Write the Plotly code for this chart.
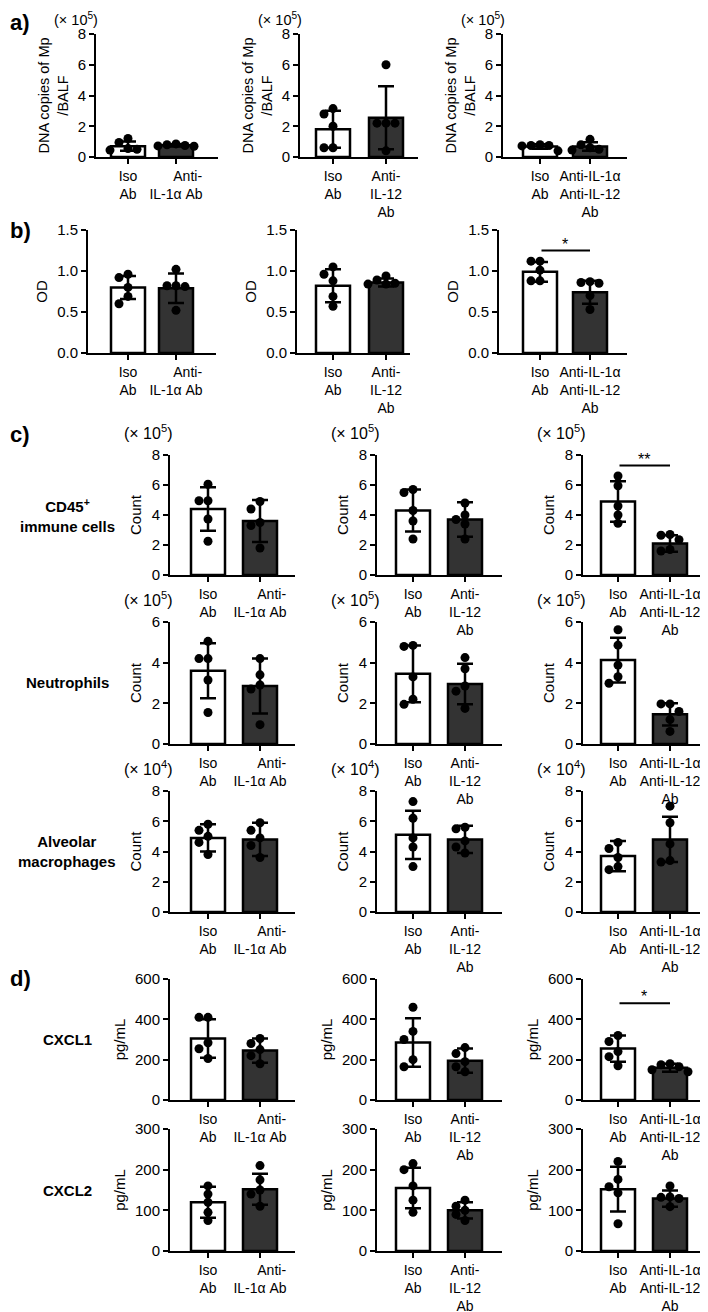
import plotly.graph_objects as go

FONT = "Arial, 'Liberation Sans', sans-serif"
# the page body has an 8px margin, so the figure is drawn 8px in from the corner
OFF = 8
W, H = 708 - OFF, 1312 - OFF

# x tick labels, one set per column (IL-1a block, IL-12 block, combined block)
TICKS = [
    ["Iso<br>Ab", "\u00a0\u00a0\u00a0\u00a0\u00a0\u00a0Anti-<br>IL-1α Ab"],
    ["Iso<br>Ab", "Anti-<br>IL-12<br>Ab"],
    ["Iso<br>Ab", "Anti-IL-1α<br>Anti-IL-12<br>Ab"],
]

# a) DNA copies of Mp / BALF (x 10^5); one entry per column
A_ISO = [[1.2, 0.95, 0.55, 0.45, 0.5], [3.15, 2.8, 2.0, 0.6, 0.6], [0.8, 0.75, 0.72, 0.75, 0.4]]
A_ANTI = [[0.85, 0.8, 0.75, 0.7, 0.72], [6.0, 2.2, 2.2, 2.2, 0.4], [1.15, 0.8, 0.6, 0.5, 0.45]]
A_MEAN = [(0.7, 0.76), (1.8, 2.55), (0.68, 0.68)]
A_SD = [(0.3, 0.07), (1.2, 2.05), (0.15, 0.28)]

# b) OD
B_ISO = [[0.96, 0.92, 0.8, 0.69, 0.6], [1.05, 0.96, 0.88, 0.69, 0.57], [1.12, 1.12, 1.01, 0.88, 0.88]]
B_ANTI = [[1.02, 0.81, 0.82, 0.82, 0.52], [0.94, 0.89, 0.85, 0.84, 0.84], [0.87, 0.86, 0.85, 0.7, 0.53]]
B_MEAN = [(0.8, 0.79), (0.82, 0.86), (0.99, 0.74)]
B_SD = [(0.14, 0.18), (0.2, 0.05), (0.12, 0.14)]

# c) CD45+ immune cells (x 10^5)
CD45_ISO = [[6.05, 4.95, 4.95, 3.73, 2.25], [5.7, 5.5, 4.3, 3.6, 2.4], [6.6, 5.95, 4.6, 4.0, 3.45]]
CD45_ANTI = [[4.9, 4.4, 3.5, 3.3, 1.8], [4.8, 4.0, 3.7, 3.4, 2.4], [2.7, 2.65, 2.35, 1.7, 1.6]]
CD45_MEAN = [(4.4, 3.6), (4.3, 3.7), (4.9, 2.1)]
CD45_SD = [(1.45, 1.4), (1.4, 1.15), (1.35, 0.55)]

# c) Neutrophils (x 10^5)
NEU_ISO = [[5.05, 4.2, 4.2, 3.15, 1.55], [4.85, 4.8, 3.3, 2.2, 1.95], [5.62, 4.86, 3.88, 3.31, 2.99]]
NEU_ANTI = [[4.2, 3.4, 2.9, 2.7, 0.95], [4.25, 3.7, 2.85, 2.6, 1.75], [1.97, 1.97, 1.6, 1.2, 0.62]]
NEU_MEAN = [(3.6, 2.85), (3.45, 2.95), (4.13, 1.46)]
NEU_SD = [(1.35, 1.35), (1.4, 1.0), (1.1, 0.55)]

# c) Alveolar macrophages (x 10^4)
AM_ISO = [[5.8, 5.4, 5.0, 4.6, 3.8], [7.3, 6.2, 4.9, 4.3, 3.0], [4.6, 4.2, 3.6, 3.0, 2.8]]
AM_ANTI = [[5.9, 5.4, 4.9, 4.4, 3.6], [5.6, 5.5, 4.7, 4.3, 3.9], [7.0, 5.9, 4.5, 3.4, 3.3]]
AM_MEAN = [(4.9, 4.8), (5.1, 4.8), (3.7, 4.8)]
AM_SD = [(0.9, 1.1), (1.6, 0.9), (1.0, 1.5)]

# d) CXCL1 (pg/mL)
CX1_ISO = [[410, 410, 284, 254, 206], [460, 340, 300, 200, 165], [320, 290, 240, 215, 170]]
CX1_ANTI = [[305, 280, 250, 220, 180], [260, 230, 190, 165, 140], [180, 175, 165, 150, 140]]
CX1_MEAN = [(305, 245), (285, 195), (255, 160)]
CX1_SD = [(95, 60), (120, 60), (65, 20)]

# d) CXCL2 (pg/mL)
CX2_ISO = [[160, 140, 120, 95, 75], [215, 200, 160, 125, 95], [220, 176, 158, 143, 67]]
CX2_ANTI = [[210, 175, 150, 140, 110], [125, 110, 100, 90, 75], [160, 133, 132, 129, 109]]
CX2_MEAN = [(120, 152), (155, 100), (152, 129)]
CX2_SD = [(38, 38), (50, 20), (55, 20)]

# significance marks: (row, column, label, level)
SIG = [(1, 2, "*", 1.25), (2, 2, "**", 7.3), (3, 2, "**", 6.1), (5, 2, "*", 480)]

# pixel geometry of the grid (page pixels)
LEFT_AB, RIGHT_AB = [[96, 300, 503], [88, 297, 499]], [[218, 418, 627], [216, 410, 627]]
CENTERS_AB = [(128, 176), (333, 386), (540, 590)]
LEFT_CD, RIGHT_CD = [170, 377, 583], [295, 502, 706]
CENTERS_CD = [(208, 260), (413, 465), (618, 670)]

ROWS = [
    dict(iso=A_ISO, anti=A_ANTI, mean=A_MEAN, sd=A_SD, ypx=(34, 157), ymax=8, dtick=2,
         title="DNA copies of Mp<br>/BALF", tsize=14.5, mult="(× 10<sup>5</sup>)", msize=14.5,
         label=None),
    dict(iso=B_ISO, anti=B_ANTI, mean=B_MEAN, sd=B_SD, ypx=(230, 353), ymax=1.5, dtick=0.5,
         title="OD", mult=None, label=None, fmt=".1f"),
    dict(iso=CD45_ISO, anti=CD45_ANTI, mean=CD45_MEAN, sd=CD45_SD, ypx=(455, 575), ymax=8, dtick=2,
         title="Count", mult="(× 10<sup>5</sup>)", label="CD45<sup>+</sup><br>immune cells"),
    dict(iso=NEU_ISO, anti=NEU_ANTI, mean=NEU_MEAN, sd=NEU_SD, ypx=(622, 744), ymax=6, dtick=2,
         title="Count", mult="(× 10<sup>5</sup>)", label="Neutrophils"),
    dict(iso=AM_ISO, anti=AM_ANTI, mean=AM_MEAN, sd=AM_SD, ypx=(791, 912), ymax=8, dtick=2,
         title="Count", mult="(× 10<sup>4</sup>)", label="Alveolar<br>macrophages"),
    dict(iso=CX1_ISO, anti=CX1_ANTI, mean=CX1_MEAN, sd=CX1_SD, ypx=(979, 1100), ymax=600, dtick=200,
         title="pg/mL", mult=None, label="CXCL1"),
    dict(iso=CX2_ISO, anti=CX2_ANTI, mean=CX2_MEAN, sd=CX2_SD, ypx=(1129, 1251), ymax=300, dtick=100,
         title="pg/mL", mult=None, label="CXCL2"),
]
PANEL_LETTERS = [("a)", 14), ("b)", 230), ("c)", 435), ("d)", 978)]


def fx(p):
    return max(0.0, (p - OFF) / W)


def fy(p):
    return 1 - (p - OFF) / H


def top_text(ypx, half):
    # keep a text box inside the figure when it sits at the very top edge
    if ypx - half < OFF:
        return dict(y=1, yanchor="top")
    return dict(y=fy(ypx), yanchor="middle")


def swarm(vals, ppu_y, ppu_x, d=9.0):
    # greedy dot placement so markers don't overlap (in pixels)
    order = sorted(range(len(vals)), key=lambda i: -vals[i])
    placed, offs = [], [0.0] * len(vals)
    for i in order:
        yp = vals[i] * ppu_y
        for k in [0, -1, 1, -2, 2, -3, 3]:
            xp = k * d
            if all((xp - a) ** 2 + (yp - b) ** 2 >= (0.9 * d) ** 2 for a, b in placed):
                break
        placed.append((xp, yp))
        offs[i] = xp / ppu_x
    return offs


fig = go.Figure()
layout = {}
annotations = []
axis_common = dict(showline=True, linecolor="black", linewidth=2, ticks="outside",
                   ticklen=5, tickwidth=2, tickcolor="black", showgrid=False,
                   zeroline=False, fixedrange=True, automargin=False)

for r, row in enumerate(ROWS):
    top, bot = row["ypx"]
    ppu_y = (bot - top) / row["ymax"]
    for c in range(3):
        n = r * 3 + c + 1
        xa, ya = ("x", "y") if n == 1 else (f"x{n}", f"y{n}")
        if r < 2:
            left, right = LEFT_AB[r][c], RIGHT_AB[r][c]
            c0, c1 = CENTERS_AB[c]
        else:
            left, right = LEFT_CD[c], RIGHT_CD[c]
            c0, c1 = CENTERS_CD[c]
        s = c1 - c0
        xr = [(left - c0) / s, (right - c0) / s]

        fig.add_trace(go.Bar(
            x=[0, 1], y=list(row["mean"][c]), width=34 / s,
            marker=dict(color=["white", "#333333"], line=dict(color="black", width=2.5)),
            error_y=dict(type="data", array=list(row["sd"][c]), color="black",
                         thickness=2.5, width=8),
            xaxis=xa, yaxis=ya, hoverinfo="skip"))
        for g, vals in enumerate([row["iso"][c], row["anti"][c]]):
            offs = swarm(vals, ppu_y, s)
            fig.add_trace(go.Scatter(
                x=[g + o for o in offs], y=vals, mode="markers",
                marker=dict(color="black", size=9), cliponaxis=False,
                xaxis=xa, yaxis=ya, hoverinfo="skip"))

        xkey = "xaxis" if n == 1 else f"xaxis{n}"
        ykey = "yaxis" if n == 1 else f"yaxis{n}"
        layout[xkey] = dict(axis_common, domain=[fx(left), fx(right)], range=xr,
                            anchor=ya, tickmode="array", tickvals=[0, 1],
                            ticktext=TICKS[c], ticklabeloverflow="allow",
                            tickfont=dict(size=14, color="black", family=FONT))
        ydict = dict(axis_common, domain=[fy(bot), fy(top)],
                     range=[0, row["ymax"]], anchor=xa, dtick=row["dtick"],
                     tick0=0, ticklabeloverflow="allow",
                     tickfont=dict(size=15, color="black", family=FONT),
                     title=dict(text=row["title"], standoff=6,
                                font=dict(size=row.get("tsize", 15), color="black",
                                          family=FONT)))
        if row.get("fmt"):
            ydict["tickformat"] = row["fmt"]
        layout[ykey] = ydict

        if row["mult"]:
            annotations.append(dict(
                text=row["mult"], xref="paper", yref="paper",
                x=fx(left + 4), xanchor="right", showarrow=False,
                font=dict(size=row.get("msize", 16), color="black", family=FONT),
                **top_text(top - 23, 11)))

    if row["label"]:
        annotations.append(dict(
            text="<b>" + row["label"] + "</b>", xref="paper", yref="paper",
            x=fx(67), y=fy((top + bot) / 2), xanchor="center",
            yanchor="middle", showarrow=False,
            font=dict(size=15, color="black", family=FONT)))

for r, c, lab, lvl in SIG:
    n = r * 3 + c + 1
    xa, ya = f"x{n}", f"y{n}"
    annotations.append(dict(
        text="", x=1, y=lvl, xref=xa, yref=ya, ax=0, ay=lvl, axref=xa, ayref=ya,
        showarrow=True, arrowhead=0, arrowwidth=2, arrowcolor="black",
        standoff=0, startstandoff=0))
    annotations.append(dict(
        text=lab, x=0.5, y=lvl, xref=xa, yref=ya, showarrow=False,
        xanchor="center", yanchor="bottom", yshift=-4,
        font=dict(size=16, color="black", family=FONT)))

for txt, ypx in PANEL_LETTERS:
    annotations.append(dict(
        text="<b>" + txt + "</b>", xref="paper", yref="paper",
        x=0, xanchor="left", showarrow=False,
        font=dict(size=22, color="black", family=FONT),
        **top_text(ypx, 13)))

fig.update_layout(
    width=W, height=H, margin=dict(l=0, r=0, t=0, b=0),
    paper_bgcolor="white", plot_bgcolor="white", showlegend=False,
    font=dict(family=FONT, color="black"), annotations=annotations,
    **layout)

fig.write_html("out.html")
